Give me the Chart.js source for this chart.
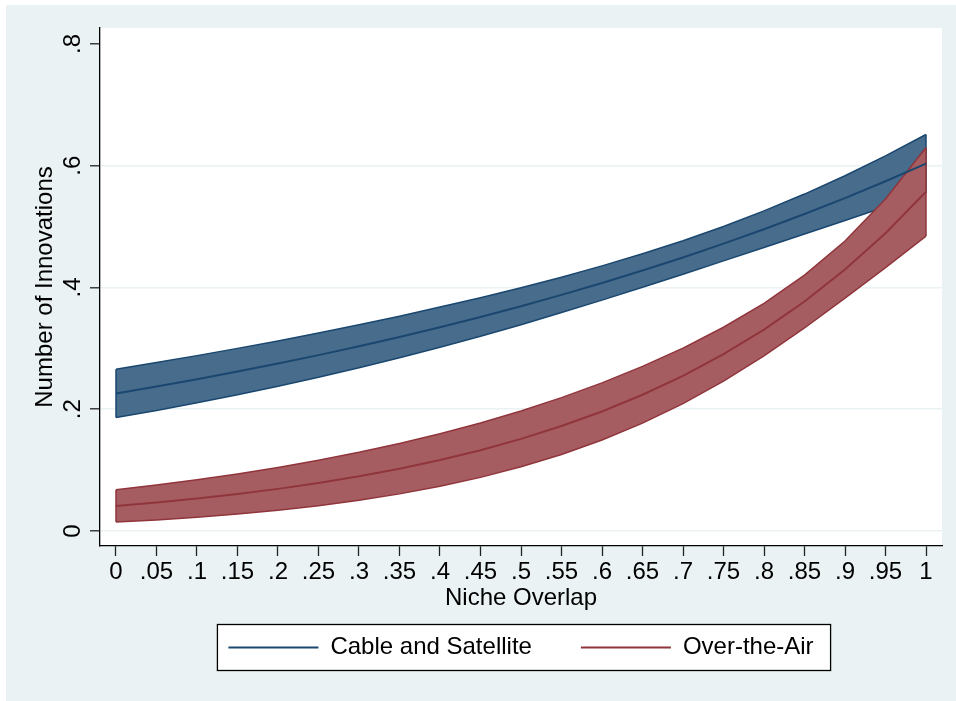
<!DOCTYPE html>
<html>
<head>
<meta charset="utf-8">
<script src="https://cdn.jsdelivr.net/npm/chart.js@4.4.1/dist/chart.umd.min.js"></script>
<style>
  html, body { margin: 0; padding: 0; background: #ffffff; }
  #wrap { position: absolute; left: 6px; top: 5px; width: 950px; height: 696px; }
</style>
</head>
<body>
<div id="wrap"><canvas id="c" width="950" height="696"></canvas></div>
<script>
// ---- data ----
const xValues = [0,0.05,0.1,0.15,0.2,0.25,0.3,0.35,0.4,0.45,0.5,0.55,0.6,0.65,0.7,0.75,0.8,0.85,0.9,0.95,1];

const cableMid   = [0.2260,0.2374,0.2493,0.2619,0.2750,0.2889,0.3034,0.3187,0.3348,0.3516,0.3693,0.3879,0.4074,0.4279,0.4494,0.4720,0.4958,0.5207,0.5469,0.5745,0.6034];
const cableUpper = [0.2657,0.2767,0.2881,0.3000,0.3123,0.3253,0.3387,0.3529,0.3678,0.3832,0.3997,0.4170,0.4355,0.4554,0.4769,0.5002,0.5258,0.5535,0.5836,0.6163,0.6514];
const cableLower = [0.1863,0.1981,0.2105,0.2238,0.2377,0.2525,0.2681,0.2845,0.3018,0.3200,0.3389,0.3588,0.3793,0.4004,0.4219,0.4438,0.4658,0.4879,0.5102,0.5327,0.5554];

const airMid   = [0.0411,0.0468,0.0533,0.0608,0.0692,0.0789,0.0898,0.1024,0.1166,0.1328,0.1513,0.1724,0.1964,0.2238,0.2549,0.2904,0.3308,0.3769,0.4294,0.4891,0.5572];
const airUpper = [0.0676,0.0754,0.0840,0.0937,0.1043,0.1162,0.1292,0.1438,0.1598,0.1775,0.1972,0.2191,0.2433,0.2704,0.3005,0.3347,0.3739,0.4203,0.4764,0.5454,0.6299];
const airLower = [0.0146,0.0182,0.0226,0.0279,0.0341,0.0416,0.0504,0.0610,0.0734,0.0881,0.1054,0.1257,0.1495,0.1772,0.2093,0.2461,0.2877,0.3335,0.3824,0.4328,0.4845];

const seriesNames = ['Cable and Satellite', 'Over-the-Air'];

const xTickValues = [0,0.05,0.1,0.15,0.2,0.25,0.3,0.35,0.4,0.45,0.5,0.55,0.6,0.65,0.7,0.75,0.8,0.85,0.9,0.95,1];
const xTickLabels = ['0','.05','.1','.15','.2','.25','.3','.35','.4','.45','.5','.55','.6','.65','.7','.75','.8','.85','.9','.95','1'];
const yTickValues = [0,0.2,0.4,0.6,0.8];
const yTickLabels = ['0','.2','.4','.6','.8'];

const xTitle = 'Niche Overlap';
const yTitle = 'Number of Innovations';

// ---- styles ----
const NAVY = '#1a476f', NAVY_FILL = '#486c8c';
const MAROON = '#90353b', MAROON_FILL = '#a65d62';
const BG = '#eaf2f3';

Chart.defaults.font.family = "'Liberation Sans', Arial, Helvetica, sans-serif";
Chart.defaults.font.size = 24;
Chart.defaults.color = '#000';

const pts = ys => xValues.map((x, i) => ({x: x, y: ys[i]}));
const edge = (i, lo, hi) => [{x: xValues[i], y: lo[i]}, {x: xValues[i], y: hi[i]}];
const last = xValues.length - 1;

const base = {pointRadius: 0, pointHoverRadius: 0, tension: 0, fill: false};

const datasets = [
  Object.assign({}, base, {label: '', data: pts(cableUpper), borderColor: NAVY, borderWidth: 1.5, backgroundColor: NAVY_FILL, fill: '+1', order: 12}),
  Object.assign({}, base, {label: '', data: pts(cableLower), borderColor: NAVY, borderWidth: 1.5, order: 11}),
  Object.assign({}, base, {label: '', data: edge(0, cableLower, cableUpper), borderColor: NAVY, borderWidth: 1.5, order: 11}),
  Object.assign({}, base, {label: '', data: edge(last, cableLower, cableUpper), borderColor: NAVY, borderWidth: 1.5, order: 11}),
  Object.assign({}, base, {label: '', data: pts(airUpper), borderColor: MAROON, borderWidth: 1.5, backgroundColor: MAROON_FILL, fill: '+1', order: 7}),
  Object.assign({}, base, {label: '', data: pts(airLower), borderColor: MAROON, borderWidth: 1.5, order: 6}),
  Object.assign({}, base, {label: '', data: edge(0, airLower, airUpper), borderColor: MAROON, borderWidth: 1.5, order: 6}),
  Object.assign({}, base, {label: '', data: edge(last, airLower, airUpper), borderColor: MAROON, borderWidth: 1.5, order: 6}),
  Object.assign({}, base, {label: seriesNames[0], data: pts(cableMid), borderColor: NAVY, borderWidth: 2, order: 2}),
  Object.assign({}, base, {label: seriesNames[1], data: pts(airMid), borderColor: MAROON, borderWidth: 2, order: 1})
];
const lineColors = [NAVY, MAROON];

const bgPlugin = {
  id: 'stataBg',
  beforeDraw(chart) {
    const {ctx, chartArea: a, legend} = chart;
    ctx.save();
    ctx.fillStyle = BG;
    ctx.fillRect(0, 0, chart.width, chart.height);
    ctx.fillStyle = '#ffffff';
    ctx.fillRect(a.left, a.top, a.right - a.left, a.bottom - a.top);
    const hb = legend && legend.legendHitBoxes;
    if (hb && hb.length) {
      const l = hb[0].left - 11;
      const r = hb[hb.length - 1].left + hb[hb.length - 1].width + 17;
      const cy = hb[0].top + hb[0].height / 2;
      ctx.fillStyle = '#ffffff';
      ctx.fillRect(l, cy - 23, r - l, 46);
      ctx.strokeStyle = '#000';
      ctx.lineWidth = 1.3;
      ctx.strokeRect(l, cy - 23, r - l, 46);
    }
    ctx.restore();
  }
};

new Chart(document.getElementById('c'), {
  type: 'line',
  data: {datasets: datasets},
  plugins: [bgPlugin],
  options: {
    responsive: false,
    animation: false,
    events: [],
    layout: {padding: {top: 23, right: 14, left: 0, bottom: 31.5}},
    plugins: {
      tooltip: {enabled: false},
      legend: {
        position: 'bottom',
        fullSize: false,
        labels: {
          boxWidth: 90,
          boxHeight: 2,
          padding: 49,
          color: '#000',
          font: {size: 24},
          generateLabels: () => seriesNames.map((t, i) => ({
            text: t, fillStyle: lineColors[i], strokeStyle: lineColors[i],
            lineWidth: 0, hidden: false, datasetIndex: 8 + i
          }))
        }
      }
    },
    scales: {
      x: {
        type: 'linear',
        min: -0.01975,
        max: 1.01975,
        afterBuildTicks: s => { s.ticks = xTickValues.map(v => ({value: v})); },
        afterFit: s => { s.height = 40.5; },
        ticks: {
          autoSkip: false, maxRotation: 0, minRotation: 0, padding: 2,
          color: '#000', font: {size: 24},
          callback: (v, i) => xTickLabels[i]
        },
        grid: {drawOnChartArea: false, drawTicks: true, tickLength: 10, tickColor: '#222', tickWidth: 1.3},
        border: {display: true, color: '#000', width: 1.3},
        title: {display: true, text: xTitle, color: '#000', font: {size: 24}, padding: {top: 0, bottom: -26.4}}
      },
      y: {
        type: 'linear',
        min: -0.02464,
        max: 0.8263,
        afterBuildTicks: s => { s.ticks = yTickValues.map(v => ({value: v})); },
        afterFit: s => { s.width = 94; },
        ticks: {
          minRotation: 90, maxRotation: 90, crossAlign: 'center', padding: 7,
          color: '#000', font: {size: 24},
          callback: (v, i) => yTickLabels[i]
        },
        grid: {
          drawTicks: true, tickLength: 10, tickColor: '#222', tickWidth: 1.3, lineWidth: 1.6,
          color: c => (c.tick && c.tick.value === yTickValues[yTickValues.length - 1]) ? 'rgba(0,0,0,0)' : BG
        },
        border: {display: true, color: '#000', width: 1.3},
        title: {display: true, text: yTitle, color: '#000', font: {size: 24}, padding: {top: 25, bottom: 0}}
      }
    }
  }
});
</script>
</body>
</html>
